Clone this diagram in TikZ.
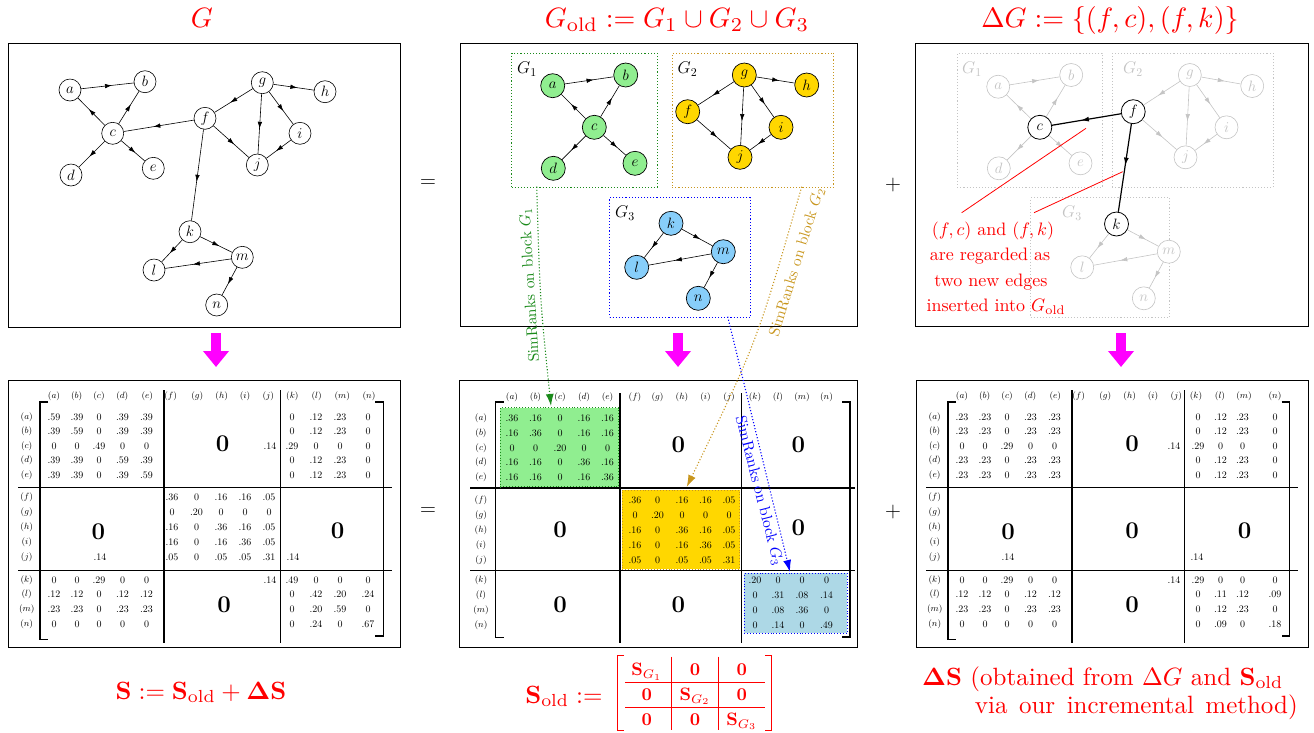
\RequirePackage{fix-cm}
\documentclass[tikz,border=0pt]{standalone}
\usepackage{amsmath}
\usetikzlibrary{arrows.meta,calc}
\definecolor{lgreen}{HTML}{90EE90}
\definecolor{gold}{HTML}{FFD700}
\definecolor{skyb}{HTML}{87CEFA}
\definecolor{lblue}{HTML}{ADD8E6}
\definecolor{dgreen}{HTML}{1A8A1A}
\definecolor{ochre}{HTML}{C8961E}
\definecolor{lgray}{HTML}{C4C4C4}
\definecolor{magen}{HTML}{FF00FF}
\newcommand{\fsz}[1]{\fontsize{#1}{#1}\selectfont}
\newcommand{\mrowi}[5]{%
  \foreach \vv [count=\ii from 0] in {#5}{%
    \pgfmathsetmacro\xx{{#1}[\ii]+#2}%
    \node[ent] (#4\ii) at (\xx,#3) {\vv};}}
\newcommand{\mrow}[5]{\expandafter\mrowi\expandafter{#1}{#2}{#3}{#4}{#5}}
% mid-arrow edge: #1 style, #2 source, #3 target
\newcommand{\medge}[3]{%
  \draw[#1, -{Latex[length=7pt,width=4.5pt]}] (#2) -- ($(#2)!0.56!(#3)$);
  \draw[#1] ($(#2)!0.5!(#3)$) -- (#3);}
\def\cAE{54,77,99,122.5,146.5}
\def\cFJ{172,196.5,221,245,269}
\def\cKN{292,316,340,368}
\def\rKN{1198,1220.5,1242.5,1275}
\def\mAE{512,535.5,560,584,607.5}
\def\mFJ{635,657.5,682,705.5,729}
\def\mKN{755,778,802,826.5}
\tikzset{
 panel/.style={draw, line width=1.1pt, inner sep=0pt, anchor=north west},
 vtx/.style={circle, draw, line width=0.6pt, minimum size=22pt, inner sep=0pt, font=\fsz{15pt}, fill=white},
 cvtx/.style={vtx, minimum size=24pt, line width=0.7pt},
 gvtx/.style={vtx, draw=lgray, text=lgray, minimum size=23pt},
 bvtx/.style={vtx, minimum size=24pt, line width=0.8pt},
 ledge/.style={line width=0.6pt},
 gedge/.style={line width=0.6pt, draw=lgray},
 bedge/.style={line width=1.2pt},
 grp/.style={dotted, line width=1.1pt, inner sep=0pt, anchor=north west},
 glab/.style={font=\fsz{17pt}, inner sep=0pt},
 conn/.style={dotted, line width=1.1pt, -{Latex[length=12pt,width=8pt]}},
 simlab/.style={font=\fsz{10pt}, scale=1.55, transform shape, inner sep=0pt},
 ttl/.style={red, font=\fsz{10pt}, scale=2.8, transform shape, anchor=base, inner sep=0pt},
 ent/.style={font=\fsz{10pt}, inner sep=0pt},
 hdr/.style={font=\fsz{9pt}, inner sep=0pt},
 bigz/.style={font=\fsz{24pt}, inner sep=0pt},
 brk/.style={line width=1.2pt},
 mrule/.style={line width=1.2pt},
 magarrow/.style={magen, line width=10pt, -{Triangle[length=16pt,width=25pt]}},
 opsym/.style={font=\fsz{22pt}, inner sep=0pt},
 redtxt/.style={red, font=\fsz{10pt}, scale=1.8, transform shape, anchor=base, inner sep=0pt},
 blab/.style={red, font=\fsz{10pt}, scale=2.5, transform shape, inner sep=0pt},
 qent/.style={red, font=\fsz{10pt}, scale=1.8, transform shape, anchor=base, inner sep=0pt},
}
\begin{document}
\begin{tikzpicture}[x=1pt,y=-1pt]
\useasboundingbox (0,0) rectangle (1314,732);
% ---------------- titles
\node[ttl] (t1) at (202,27) {$G$};
\node[ttl] (t2) at (677,27) {$G_{\text{old}} := G_1\cup G_2\cup G_3$};
\node[ttl] (t3) at (1110,27) {$\Delta G := \{(f,c),(f,k)\}$};
% ---------------- panels
\node[panel, minimum width=392pt, minimum height=284pt] (P1) at (8,43) {};
\node[panel, minimum width=397pt, minimum height=283pt] (P2) at (460,43) {};
\node[panel, minimum width=393pt, minimum height=283pt] (P3) at (915,43) {};
\node[panel, minimum width=392pt, minimum height=267pt] (Q1) at (8,380) {};
\node[panel, minimum width=398pt, minimum height=267pt] (Q2) at (459,380) {};
\node[panel, minimum width=392pt, minimum height=267pt] (Q3) at (916,380) {};
% ---------------- operators
\node[opsym] (eq1) at (428,184) {$=$};
\node[opsym] (eq2) at (428,512) {$=$};
\node[opsym] (pl1) at (893,185) {$+$};
\node[opsym] (pl2) at (893,512) {$+$};
% ---------------- magenta arrows
\coordinate (m1s) at (216,333); \coordinate (m1e) at (216,367);
\coordinate (m2s) at (678,333); \coordinate (m2e) at (678,367);
\coordinate (m3s) at (1121,333); \coordinate (m3e) at (1121,367);
\draw[magarrow] (m1s) -- (m1e);
\draw[magarrow] (m2s) -- (m2e);
\draw[magarrow] (m3s) -- (m3e);
% ---------------- top-left graph
\begin{scope}[every node/.style={vtx}]
\node (La) at (70,90) {$a$};
\node (Lb) at (145,81.7) {$b$};
\node (Lc) at (112.7,133.3) {$c$};
\node (Ld) at (71,175) {$d$};
\node (Le) at (153.3,168.3) {$e$};
\node (Lf) at (205,118.3) {$f$};
\node (Lg) at (262.3,82.7) {$g$};
\node (Lh) at (325,91.7) {$h$};
\node (Li) at (300,133.3) {$i$};
\node (Lj) at (257.3,165) {$j$};
\node (Lk) at (190,231.7) {$k$};
\node (Ll) at (154,270) {$l$};
\node (Lm) at (242.3,257.3) {$m$};
\node (Ln) at (216.7,305) {$n$};
\end{scope}
\foreach \s/\t in {a/b,c/a,c/b,c/d,c/e,f/c,g/f,g/j,g/i,g/h,f/j,i/j,f/k,k/l,k/m,m/l,m/n}
  {\medge{ledge}{L\s}{L\t}}
% ---------------- top-middle graph
\node[grp, draw=dgreen, minimum width=145.7pt, minimum height=134pt] (B1) at (511,52.7) {};
\node[grp, draw=ochre, minimum width=161.6pt, minimum height=134pt] (B2) at (671.7,52.7) {};
\node[grp, draw=blue, minimum width=141pt, minimum height=119.4pt] (B3) at (609,197.3) {};
\node[glab] (g1) at (527,69.3) {$G_1$};
\node[glab] (g2) at (687.5,69.3) {$G_2$};
\node[glab] (g3) at (625,213.3) {$G_3$};
\begin{scope}[every node/.style={cvtx}]
\node[fill=lgreen] (Ma) at (552.7,85.7) {$a$};
\node[fill=lgreen] (Mb) at (625.7,75) {$b$};
\node[fill=lgreen] (Mc) at (594.3,127.3) {$c$};
\node[fill=lgreen] (Md) at (553.3,168.3) {$d$};
\node[fill=lgreen] (Me) at (635,163.3) {$e$};
\node[fill=gold] (Mg) at (744.3,75) {$g$};
\node[fill=gold] (Mh) at (806.7,85) {$h$};
\node[fill=gold] (Mf) at (687.7,111.7) {$f$};
\node[fill=gold] (Mi) at (781,127.3) {$i$};
\node[fill=gold] (Mj) at (740,157.3) {$j$};
\node[fill=skyb] (Mk) at (671,223.3) {$k$};
\node[fill=skyb] (Mm) at (723.3,251.7) {$m$};
\node[fill=skyb] (Ml) at (636.7,267.3) {$l$};
\node[fill=skyb] (Mn) at (698.3,298.3) {$n$};
\end{scope}
\foreach \s/\t in {a/b,c/a,c/b,c/d,c/e,g/f,g/j,g/i,g/h,f/j,i/j,k/l,k/m,m/l,m/n}
  {\medge{ledge}{M\s}{M\t}}
% ---------------- top-right graph
\node[grp, draw=lgray, minimum width=145pt, minimum height=134pt] (C1) at (956.7,52.7) {};
\node[grp, draw=lgray, minimum width=161pt, minimum height=134pt] (C2) at (1111.7,52.7) {};
\node[grp, draw=lgray, minimum width=139.3pt, minimum height=119.4pt] (C3) at (1030,197.3) {};
\node[glab, text=lgray] (h1) at (972,69.3) {$G_1$};
\node[glab, text=lgray] (h2) at (1133,69.3) {$G_2$};
\node[glab, text=lgray] (h3) at (1072,213.3) {$G_3$};
\begin{scope}[every node/.style={gvtx}]
\node (Ra) at (998.2,86.7) {$a$};
\node (Rb) at (1071.2,75) {$b$};
\node (Rd) at (998.8,168.3) {$d$};
\node (Re) at (1080.5,163.3) {$e$};
\node (Rg) at (1189.8,75) {$g$};
\node (Rh) at (1252.2,86) {$h$};
\node (Ri) at (1226.5,127.3) {$i$};
\node (Rj) at (1185.5,157.3) {$j$};
\node (Rm) at (1168.8,251.7) {$m$};
\node (Rl) at (1082.2,267.3) {$l$};
\node (Rn) at (1143.8,298.3) {$n$};
\end{scope}
\begin{scope}[every node/.style={bvtx}]
\node (Rc) at (1039.8,127.3) {$c$};
\node (Rf) at (1133.2,111.7) {$f$};
\node (Rk) at (1116.5,224) {$k$};
\end{scope}
\foreach \s/\t in {a/b,c/a,c/b,c/d,c/e,g/f,g/j,g/i,g/h,f/j,i/j,k/l,k/m,m/l,m/n}
  {\medge{gedge}{R\s}{R\t}}
\draw[bedge, -{Latex[length=8pt,width=5pt]}] (Rf) -- ($(Rf)!0.56!(Rc)$);
\draw[bedge] ($(Rf)!0.5!(Rc)$) -- (Rc);
\draw[bedge, -{Latex[length=8pt,width=5pt]}] (Rf) -- ($(Rf)!0.48!(Rk)$);
\draw[bedge] ($(Rf)!0.42!(Rk)$) -- (Rk);
\coordinate (r1a) at (961.7,212.7); \coordinate (r1b) at (1086,128.3);
\coordinate (r2a) at (1034,212.7); \coordinate (r2b) at (1122.7,171.7);
\draw[red, line width=0.8pt] (r1a) -- (r1b);
\draw[red, line width=0.8pt] (r2a) -- (r2b);
\node[redtxt] (n1) at (993,235) {$(f,c)$ and $(f,k)$};
\node[redtxt] (n2) at (990,260.5) {are regarded as};
\node[redtxt] (n3) at (991,286) {two new edges};
\node[redtxt] (n4) at (996,311.5) {inserted into $G_{\text{old}}$};
% ---------------- matrix frames
\foreach \o/\rb/\v in {0/0/0, 908/-1.6/-4.4}{
  \draw[brk] (48+\o,402) -- (40+\o,402) -- (40+\o,639.7) -- (48+\o,639.7);
  \draw[brk] (375.3+\o+\rb,402) -- (383.3+\o+\rb,402) -- (383.3+\o+\rb,636) -- (375.3+\o+\rb,636);
  \draw[mrule] (18.3+\o,487.3) -- (391.7+\o+\rb,487.3);
  \draw[mrule] (18.3+\o,570.3) -- (391.7+\o+\rb,570.3);
  \draw[mrule] (164+\o,390) -- (164+\o,643);
  \draw[mrule] (280.7+\o+\v,390) -- (280.7+\o+\v,643);
}
\draw[brk] (503.7,402) -- (495.7,402) -- (495.7,637.3) -- (503.7,637.3);
\draw[brk] (842,402) -- (850,402) -- (850,637) -- (842,637);
\draw[mrule] (470,488) -- (855,488);
\draw[mrule] (470,570.7) -- (855,570.7);
\draw[mrule] (620,393) -- (620,643);
\draw[mrule] (741.7,393) -- (741.7,643);
% colored blocks
\node[grp, fill=lgreen, draw=dgreen, line width=0.9pt, minimum width=118.3pt, minimum height=79pt] (GB1) at (500,407.3) {};
\node[grp, fill=gold, draw=ochre, line width=0.9pt, minimum width=117.6pt, minimum height=79pt] (GB2) at (621.7,489.7) {};
\node[grp, fill=lblue, draw=blue, line width=0.9pt, minimum width=102.7pt, minimum height=60pt] (GB3) at (744,573) {};
% ---------------- headers and row labels
\foreach \x/\l in {54/a,76.7/b,99/c,122.3/d,147.3/e,170.7/f,197.3/g,221.7/h,245/i,268.3/j,292.3/k,316.7/l,342.3/m,369/n}
  \node[hdr] (Lh\l) at (\x,396) {$(\l)$};
\foreach \x/\l in {962/a,984.7/b,1007/c,1030.3/d,1055.3/e,1078.7/f,1105.3/g,1129.7/h,1153/i,1176.3/j,1196/k,1220/l,1244/m,1275/n}
  \node[hdr] (Rh\l) at (\x,396) {$(\l)$};
\foreach \o/\tg in {0/L,908/R}{
  \foreach \y/\l in {417/a,431.5/b,446/c,460.5/d,475/e,497/f,512/g,527/h,542/i,557/j,580/k,594.6/l,609.2/m,623.8/n}
    \node[hdr] (\tg v\l) at (26.7+\o,\y) {$(\l)$};
}
\foreach \x/\l in {512/a,535.5/b,560/c,584/d,607.5/e,635/f,657.5/g,682/h,705.5/i,729/j,755/k,778/l,802/m,826.5/n}
  \node[hdr] (Mh\l) at (\x,397) {$(\l)$};
\foreach \y/\l in {418.7/a,433.3/b,447.9/c,462.5/d,477.1/e,500/f,515/g,530/h,545/i,560/j,580/k,595/l,610/m,625/n}
  \node[hdr] (Mv\l) at (481,\y) {$(\l)$};
% ---------------- left matrix entries
\mrow{\cAE}{0}{417}{Lra}{.59,.39,0,.39,.39}
\mrow{\cAE}{0}{431.5}{Lrb}{.39,.59,0,.39,.39}
\mrow{\cAE}{0}{446}{Lrc}{0,0,.49,0,0}
\mrow{\cAE}{0}{460.5}{Lrd}{.39,.39,0,.59,.39}
\mrow{\cAE}{0}{475}{Lre}{.39,.39,0,.39,.59}
\mrow{\cKN}{0}{417}{Lsa}{0,.12,.23,0}
\mrow{\cKN}{0}{431.5}{Lsb}{0,.12,.23,0}
\mrow{\cKN}{0}{446}{Lsc}{.29,0,0,0}
\mrow{\cKN}{0}{460.5}{Lsd}{0,.12,.23,0}
\mrow{\cKN}{0}{475}{Lse}{0,.12,.23,0}
\mrow{\cFJ}{0}{497}{Lrf}{.36,0,.16,.16,.05}
\mrow{\cFJ}{0}{512}{Lrg}{0,.20,0,0,0}
\mrow{\cFJ}{0}{527}{Lrh}{.16,0,.36,.16,.05}
\mrow{\cFJ}{0}{542}{Lri}{.16,0,.16,.36,.05}
\mrow{\cFJ}{0}{557}{Lrj}{.05,0,.05,.05,.31}
\mrow{\cAE}{0}{580}{Lrk}{0,0,.29,0,0}
\mrow{\cAE}{0}{594.6}{Lrl}{.12,.12,0,.12,.12}
\mrow{\cAE}{0}{609.2}{Lrm}{.23,.23,0,.23,.23}
\mrow{\cAE}{0}{623.8}{Lrn}{0,0,0,0,0}
\mrow{\cKN}{0}{580}{Lsk}{.49,0,0,0}
\mrow{\cKN}{0}{594.6}{Lsl}{0,.42,.20,.24}
\mrow{\cKN}{0}{609.2}{Lsm}{0,.20,.59,0}
\mrow{\cKN}{0}{623.8}{Lsn}{0,.24,0,.67}
\node[ent] (Lx1) at (270,446) {.14};
\node[ent] (Lx2) at (100,557) {.14};
\node[ent] (Lx3) at (293,557) {.14};
\node[ent] (Lx4) at (270,580) {.14};
\node[bigz] (Lz1) at (222.5,444) {$\mathbf{0}$};
\node[bigz] (Lz2) at (98.3,532) {$\mathbf{0}$};
\node[bigz] (Lz3) at (337.5,531) {$\mathbf{0}$};
\node[bigz] (Lz4) at (224,604.7) {$\mathbf{0}$};
% ---------------- middle matrix entries
\mrow{\mAE}{0}{418.7}{Mra}{.36,.16,0,.16,.16}
\mrow{\mAE}{0}{433.3}{Mrb}{.16,.36,0,.16,.16}
\mrow{\mAE}{0}{447.9}{Mrc}{0,0,.20,0,0}
\mrow{\mAE}{0}{462.5}{Mrd}{.16,.16,0,.36,.16}
\mrow{\mAE}{0}{477.1}{Mre}{.16,.16,0,.16,.36}
\mrow{\mFJ}{0}{500}{Mrf}{.36,0,.16,.16,.05}
\mrow{\mFJ}{0}{515}{Mrg}{0,.20,0,0,0}
\mrow{\mFJ}{0}{530}{Mrh}{.16,0,.36,.16,.05}
\mrow{\mFJ}{0}{545}{Mri}{.16,0,.16,.36,.05}
\mrow{\mFJ}{0}{560}{Mrj}{.05,0,.05,.05,.31}
\mrow{\mKN}{0}{580}{Mrk}{.20,0,0,0}
\mrow{\mKN}{0}{595}{Mrl}{0,.31,.08,.14}
\mrow{\mKN}{0}{610}{Mrm}{0,.08,.36,0}
\mrow{\mKN}{0}{625}{Mrn}{0,.14,0,.49}
\node[bigz] (Mz1) at (678.3,444.7) {$\mathbf{0}$};
\node[bigz] (Mz2) at (798.3,444.7) {$\mathbf{0}$};
\node[bigz] (Mz3) at (560,529.7) {$\mathbf{0}$};
\node[bigz] (Mz4) at (798.3,528) {$\mathbf{0}$};
\node[bigz] (Mz5) at (560,604.7) {$\mathbf{0}$};
\node[bigz] (Mz6) at (678.3,604.7) {$\mathbf{0}$};
% ---------------- right matrix entries
\mrow{\cAE}{908}{417}{Rra}{.23,.23,0,.23,.23}
\mrow{\cAE}{908}{431.5}{Rrb}{.23,.23,0,.23,.23}
\mrow{\cAE}{908}{446}{Rrc}{0,0,.29,0,0}
\mrow{\cAE}{908}{460.5}{Rrd}{.23,.23,0,.23,.23}
\mrow{\cAE}{908}{475}{Rre}{.23,.23,0,.23,.23}
\mrow{\rKN}{0}{417}{Rsa}{0,.12,.23,0}
\mrow{\rKN}{0}{431.5}{Rsb}{0,.12,.23,0}
\mrow{\rKN}{0}{446}{Rsc}{.29,0,0,0}
\mrow{\rKN}{0}{460.5}{Rsd}{0,.12,.23,0}
\mrow{\rKN}{0}{475}{Rse}{0,.12,.23,0}
\mrow{\cAE}{908}{580}{Rrk}{0,0,.29,0,0}
\mrow{\cAE}{908}{594.6}{Rrl}{.12,.12,0,.12,.12}
\mrow{\cAE}{908}{609.2}{Rrm}{.23,.23,0,.23,.23}
\mrow{\cAE}{908}{623.8}{Rrn}{0,0,0,0,0}
\mrow{\rKN}{0}{580}{Rsk}{.29,0,0,0}
\mrow{\rKN}{0}{594.6}{Rsl}{0,.11,.12,.09}
\mrow{\rKN}{0}{609.2}{Rsm}{0,.12,.23,0}
\mrow{\rKN}{0}{623.8}{Rsn}{0,.09,0,.18}
\node[ent] (Rx1) at (1174,446) {.14};
\node[ent] (Rx2) at (1008,557) {.14};
\node[ent] (Rx3) at (1197,557) {.14};
\node[ent] (Rx4) at (1174,580) {.14};
\node[bigz] (Rz1) at (1132,444) {$\mathbf{0}$};
\node[bigz] (Rz2) at (1008,532) {$\mathbf{0}$};
\node[bigz] (Rz3) at (1132,531) {$\mathbf{0}$};
\node[bigz] (Rz4) at (1244.5,531) {$\mathbf{0}$};
\node[bigz] (Rz5) at (1132,604.7) {$\mathbf{0}$};
% ---------------- SimRank connectors
\coordinate (s1) at (536.7,186.7); \coordinate (e1) at (551,406);
\coordinate (s2) at (801.7,186.7); \coordinate (e2) at (686.7,487);
\coordinate (s3) at (727.7,316.7); \coordinate (e3) at (790,572);
\draw[conn, dgreen] (s1) .. controls (540,300) .. (e1);
\draw[conn, ochre] (s2) .. controls (757,342) .. (e2);
\draw[conn, blue] (s3) -- (e3);
\node[simlab, text=dgreen, rotate=93.5] (sl1) at (530,285) {SimRanks on block $G_1$};
\node[simlab, text=ochre, rotate=72.8] (sl2) at (797,262) {SimRanks on block $G_2$};
\node[simlab, text=blue, rotate=-75.6] (sl3) at (759,491) {SimRanks on block $G_3$};
% ---------------- bottom labels
\node[blab, anchor=base] (bl) at (201,699) {$\mathbf{S} := \mathbf{S}_{\text{old}} + \mathbf{\Delta S}$};
\node[blab, anchor=base east] (bm) at (603,703) {$\mathbf{S}_{\text{old}} :=$};
\draw[red, line width=1pt] (624,655) -- (617.3,655) -- (617.3,730) -- (624,730);
\draw[red, line width=1pt] (765,655) -- (771.7,655) -- (771.7,730) -- (765,730);
\draw[red, line width=1pt] (625,682.3) -- (765,682.3);
\draw[red, line width=1pt] (625,707.3) -- (765,707.3);
\draw[red, line width=1pt] (671.7,656.7) -- (671.7,730);
\draw[red, line width=1pt] (718.3,656.7) -- (718.3,730);
\node[qent] (q11) at (646.7,675.5) {$\mathbf{S}_{G_1}$};
\node[qent] (q12) at (695,675.5) {$\mathbf{0}$};
\node[qent] (q13) at (741.7,675.5) {$\mathbf{0}$};
\node[qent] (q21) at (646.7,700.3) {$\mathbf{0}$};
\node[qent] (q22) at (695,700.3) {$\mathbf{S}_{G_2}$};
\node[qent] (q23) at (741.7,700.3) {$\mathbf{0}$};
\node[qent] (q31) at (646.7,725.3) {$\mathbf{0}$};
\node[qent] (q32) at (695,725.3) {$\mathbf{0}$};
\node[qent] (q33) at (741.7,725.3) {$\mathbf{S}_{G_3}$};
\node[blab, anchor=base west] (br1) at (921.7,685) {$\mathbf{\Delta S}$ (obtained from $\Delta G$ and $\mathbf{S}_{\text{old}}$};
\node[blab, anchor=base east] (br2) at (1298.3,713.3) {via\hspace{4.6pt}our\hspace{4.6pt}incremental\hspace{4.6pt}method)};
\end{tikzpicture}
\end{document}
